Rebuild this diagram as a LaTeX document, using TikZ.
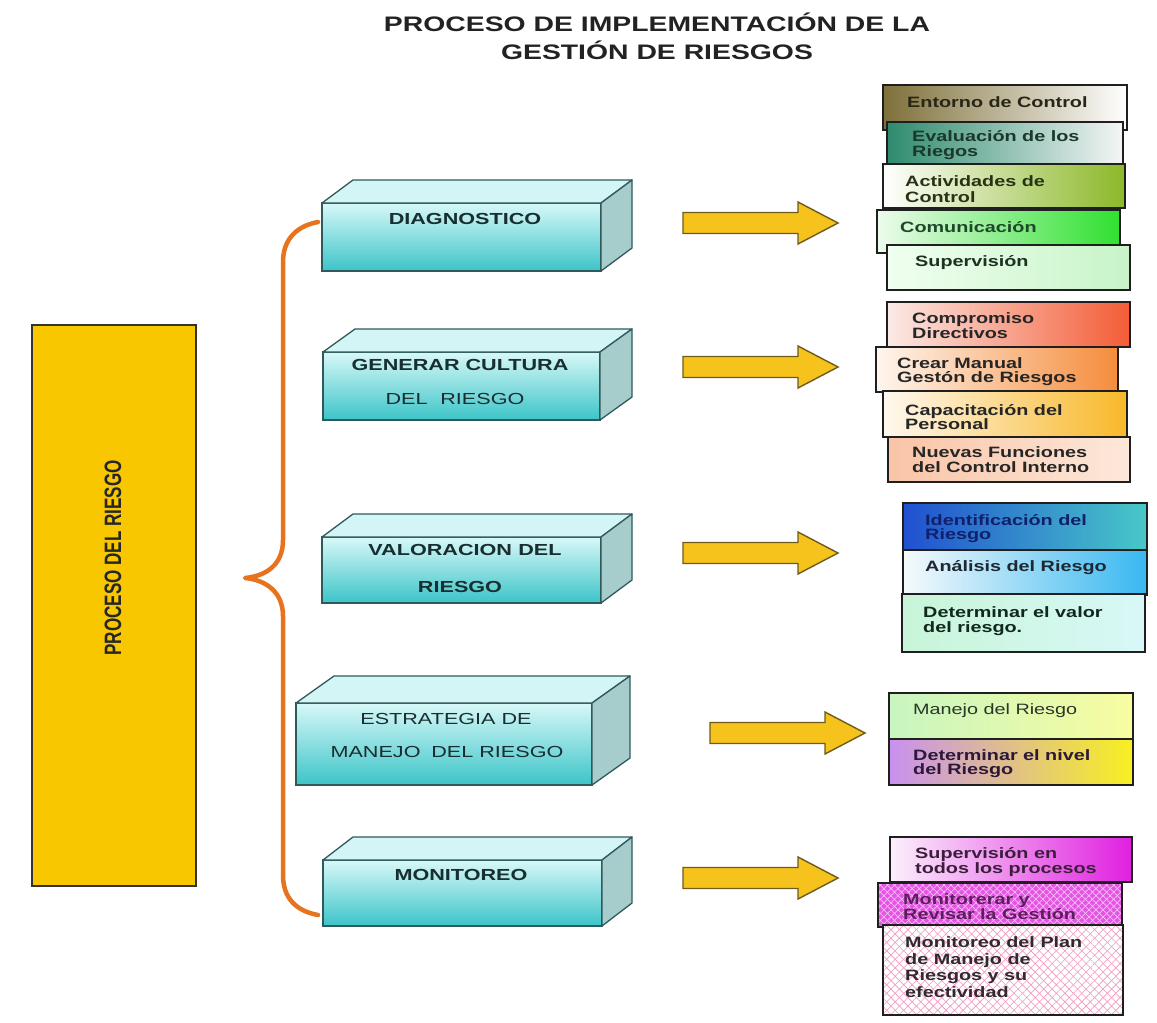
\documentclass[tikz,border=0pt]{standalone}
\usepackage{fontspec}
\setmainfont{Liberation Sans}
\newfontfamily\widefont[FakeStretch=1.35]{Liberation Sans}
\newfontfamily\rfont[FakeStretch=1.32]{Liberation Sans}
\newfontfamily\narrowfont[FakeStretch=0.72]{Liberation Sans}
\usetikzlibrary{patterns.meta}
\definecolor{boxedge}{HTML}{2F5A5C}
\definecolor{cyantop}{HTML}{D8F8F8}
\definecolor{cyanbot}{HTML}{3CC4C8}
\definecolor{cyanside}{HTML}{A6CCCC}
\definecolor{cyanlid}{HTML}{D4F5F5}
\definecolor{goldbox}{HTML}{F8C700}
\definecolor{bracecol}{HTML}{E8731E}
\definecolor{arrowfill}{HTML}{F6C21C}
\definecolor{arrowedge}{HTML}{6E5C1C}
\definecolor{txtbox}{HTML}{182E30}
\definecolor{txtdark}{HTML}{262626}
\definecolor{titlecol}{HTML}{222222}
\newcommand\mycuboid[3]{%
  \draw[lid] (#1.north west) -- ++(#2,#3) -- ([shift={(#2,#3)}]#1.north east) -- (#1.north east) -- cycle;
  \draw[side] (#1.north east) -- ++(#2,#3) -- ([shift={(#2,#3)}]#1.south east) -- (#1.south east) -- cycle;}
\begin{document}
\begin{tikzpicture}[x=1pt,y=-1pt,
  front/.style={draw=boxedge, line width=1.3pt, top color=cyantop, bottom color=cyanbot, inner sep=0pt, outer sep=0pt, anchor=north west},
  lid/.style={draw=boxedge, line width=1.3pt, fill=cyanlid, line join=round},
  side/.style={draw=boxedge, line width=1.3pt, fill=cyanside, line join=round},
  boxtxt/.style={font=\widefont\bfseries\fontsize{16}{18}\selectfont, text=txtbox, inner sep=0pt},
  boxtxtr/.style={font=\widefont\fontsize{16}{18}\selectfont, text=txtbox, inner sep=0pt},
  arrowsty/.style={draw=arrowedge, line width=1.4pt, fill=arrowfill, line join=miter},
  fatarrow/.pic={\draw[arrowsty] (0,-10.5) -- (115,-10.5) -- (115,-21) -- (155,0) -- (115,21) -- (115,10.5) -- (0,10.5) -- cycle;},
  rb/.style={draw=black!88, line width=1.3pt, inner sep=0pt, outer sep=0pt, anchor=north west},
  rt/.style={anchor=west, align=left, inner sep=0pt, font=\rfont\bfseries\fontsize{15}{15}\selectfont, text=txtdark},
  brace/.style={draw=bracecol, line width=4.5pt, line cap=round, line join=round}
]
\path[fill=white] (0,0) rectangle (1157,1023);
\useasboundingbox (0,0) rectangle (1157,1023);

% title
\node[font=\widefont\bfseries\fontsize{21}{28}\selectfont, text=titlecol, align=center] (title) at (657,36) {PROCESO DE IMPLEMENTACIÓN DE LA\\GESTIÓN DE RIESGOS};

% left box
\node[draw=black!80, line width=1.2pt, fill=goldbox, minimum width=164pt, minimum height=561pt, anchor=north west, inner sep=0pt, outer sep=0pt] (proc) at (32,325) {};
\node[rotate=90, font=\narrowfont\bfseries\fontsize{23.7}{24}\selectfont, text=txtdark, inner sep=0pt] (proclabel) at (113,558) {PROCESO DEL RIESGO};

% brace
\coordinate (bt) at (318,222);
\coordinate (bm) at (245,578);
\coordinate (bb) at (318,915);
\draw[brace] (bt) .. controls (296,226) and (283,240) .. (283,262) -- (283,540)
  .. controls (283,565) and (266,576) .. (bm)
  .. controls (266,580) and (283,592) .. (283,616) -- (283,875)
  .. controls (283,898) and (296,911) .. (bb);

% 3D boxes
\node[front, minimum width=279pt, minimum height=68pt] (diag) at (322,203) {};
\mycuboid{diag}{31}{-23}
\node[boxtxt] (diagt) at (465,219) {DIAGNOSTICO};

\node[front, minimum width=277pt, minimum height=68pt] (gen) at (323,352) {};
\mycuboid{gen}{32}{-23}
\node[boxtxt] (gent1) at (460,365) {GENERAR CULTURA};
\node[boxtxtr] (gent2) at (455,399) {DEL\hspace{0.8em}RIESGO};

\node[front, minimum width=279pt, minimum height=66pt] (val) at (322,537) {};
\mycuboid{val}{31}{-23}
\node[boxtxt] (valt1) at (465,550) {VALORACION\hspace{0.4em}DEL};
\node[boxtxt] (valt2) at (460,587) {RIESGO};

\node[front, minimum width=296pt, minimum height=82pt] (est) at (296,703) {};
\mycuboid{est}{38}{-27}
\node[boxtxtr] (estt1) at (446,719) {ESTRATEGIA DE};
\node[boxtxtr] (estt2) at (447,752) {MANEJO\hspace{0.3em} DEL RIESGO};

\node[front, minimum width=279pt, minimum height=66pt] (mon) at (323,860) {};
\mycuboid{mon}{30}{-23}
\node[boxtxt] (mont) at (461,875) {MONITOREO};

% arrows
\pic (a1) at (683,223) {fatarrow};
\pic (a2) at (683,367) {fatarrow};
\pic (a3) at (683,553) {fatarrow};
\pic (a4) at (710,733) {fatarrow};
\pic (a5) at (683,878) {fatarrow};

% group 1
\node[rb, minimum width=244pt, minimum height=45pt, left color={rgb,255:red,126;green,112;blue,58}, right color=white] (r1) at (883,85) {};
\node[rt, text={rgb,255:red,40;green,38;blue,22}] (r1t) at (907,102) {Entorno de Control};
\node[rb, minimum width=236pt, minimum height=43pt, left color={rgb,255:red,46;green,139;blue,110}, right color={rgb,255:red,244;green,246;blue,246}] (r2) at (887,122) {};
\node[rt, text={rgb,255:red,26;green,56;blue,44}] (r2t) at (912,145) {Evaluación de los\\Riegos};
\node[rb, minimum width=242pt, minimum height=44pt, left color=white, right color={rgb,255:red,140;green,184;blue,40}] (r3) at (883,164) {};
\node[rt, font=\rfont\bfseries\fontsize{15}{16.5}\selectfont, text={rgb,255:red,40;green,50;blue,20}] (r3t) at (905,189) {Actividades de\\Control};
\node[rb, minimum width=243pt, minimum height=43pt, left color={rgb,255:red,236;green,252;blue,236}, right color={rgb,255:red,48;green,224;blue,48}] (r4) at (877,210) {};
\node[rt, text={rgb,255:red,30;green,72;blue,44}] (r4t) at (900,227) {Comunicación};
\node[rb, minimum width=243pt, minimum height=45pt, left color={rgb,255:red,240;green,255;blue,240}, right color={rgb,255:red,200;green,244;blue,200}] (r5) at (887,245) {};
\node[rt, text={rgb,255:red,30;green,50;blue,36}] (r5t) at (915,263) {Supervisión};

% group 2
\node[rb, minimum width=243pt, minimum height=45pt, left color={rgb,255:red,251;green,234;blue,230}, right color={rgb,255:red,244;green,92;blue,54}] (r6) at (887,302) {};
\node[rt] (r6t) at (912,326) {Compromiso\\Directivos};
\node[rb, minimum width=242pt, minimum height=45pt, left color={rgb,255:red,255;green,246;blue,238}, right color={rgb,255:red,245;green,140;blue,60}] (r7) at (876,347) {};
\node[rt, font=\rfont\bfseries\fontsize{15}{14}\selectfont] (r7t) at (897,372) {Crear Manual\\Gestón de Riesgos};
\node[rb, minimum width=244pt, minimum height=46pt, left color={rgb,255:red,255;green,248;blue,240}, right color={rgb,255:red,248;green,184;blue,40}] (r8) at (883,391) {};
\node[rt, font=\rfont\bfseries\fontsize{15}{14}\selectfont] (r8t) at (905,417) {Capacitación del\\Personal};
\node[rb, minimum width=242pt, minimum height=45pt, left color={rgb,255:red,249;green,196;blue,166}, right color={rgb,255:red,253;green,232;blue,218}] (r9) at (888,437) {};
\node[rt] (r9t) at (912,460) {Nuevas Funciones\\del Control Interno};

% group 3
\node[rb, minimum width=244pt, minimum height=47pt, left color={rgb,255:red,32;green,80;blue,208}, right color={rgb,255:red,72;green,200;blue,200}] (r10) at (903,503) {};
\node[rt, font=\rfont\bfseries\fontsize{15}{14}\selectfont, text={rgb,255:red,16;green,32;blue,106}] (r10t) at (925,529) {Identificación del\\Riesgo};
\node[rb, minimum width=244pt, minimum height=45pt, left color={rgb,255:red,246;green,250;blue,252}, right color={rgb,255:red,56;green,184;blue,240}] (r11) at (903,550) {};
\node[rt, text={rgb,255:red,30;green,40;blue,50}] (r11t) at (925,568) {Análisis del Riesgo};
\node[rb, minimum width=243pt, minimum height=58pt, left color={rgb,255:red,200;green,245;blue,216}, right color={rgb,255:red,216;green,248;blue,248}] (r12) at (902,594) {};
\node[rt, text={rgb,255:red,16;green,40;blue,30}] (r12t) at (923,621) {Determinar el valor\\del riesgo.};

% group 4
\node[rb, minimum width=244pt, minimum height=46pt, left color={rgb,255:red,200;green,245;blue,192}, right color={rgb,255:red,248;green,252;blue,160}] (r13) at (889,693) {};
\node[rt, font=\rfont\fontsize{15}{15}\selectfont, text={rgb,255:red,40;green,56;blue,40}] (r13t) at (913,711) {Manejo del Riesgo};
\node[rb, minimum width=244pt, minimum height=46pt, left color={rgb,255:red,200;green,144;blue,240}, right color={rgb,255:red,248;green,240;blue,32}] (r14) at (889,739) {};
\node[rt, font=\rfont\bfseries\fontsize{15}{14}\selectfont, text={rgb,255:red,44;green,24;blue,58}] (r14t) at (913,764) {Determinar el nivel\\del Riesgo};

% group 5
\node[rb, minimum width=242pt, minimum height=45pt, left color={rgb,255:red,251;green,240;blue,251}, right color={rgb,255:red,224;green,32;blue,224}] (r15) at (890,837) {};
\node[rt, text={rgb,255:red,60;green,30;blue,60}] (r15t) at (915,862) {Supervisión en\\todos los procesos};
\node[rb, minimum width=244pt, minimum height=44pt, fill={rgb,255:red,226;green,86;blue,226}] (r16) at (878,883) {};
\fill[pattern={Lines[angle=45,distance=5pt,line width=0.7pt]}, pattern color={rgb,255:red,250;green,190;blue,250}] (r16.north west) rectangle (r16.south east);
\fill[pattern={Lines[angle=-45,distance=5pt,line width=0.7pt]}, pattern color={rgb,255:red,250;green,190;blue,250}] (r16.north west) rectangle (r16.south east);
\draw[draw=black!88, line width=1.3pt] (r16.north west) rectangle (r16.south east);
\node[rt, font=\rfont\bfseries\fontsize{15}{14}\selectfont, text={rgb,255:red,92;green,30;blue,92}] (r16t) at (903,907) {Monitorerar y\\Revisar la Gestión};
\node[rb, minimum width=240pt, minimum height=90pt, fill=white] (r17) at (883,925) {};
\fill[pattern={Lines[angle=45,distance=6pt,line width=0.6pt]}, pattern color={rgb,255:red,240;green,150;blue,190}] (r17.north west) rectangle (r17.south east);
\fill[pattern={Lines[angle=-45,distance=6pt,line width=0.6pt]}, pattern color={rgb,255:red,240;green,150;blue,190}] (r17.north west) rectangle (r17.south east);
\draw[draw=black!88, line width=1.3pt] (r17.north west) rectangle (r17.south east);
\node[rt, font=\rfont\bfseries\fontsize{15}{16.7}\selectfont, text={rgb,255:red,50;green,40;blue,50}] (r17t) at (905,967) {Monitoreo del Plan\\de Manejo de\\Riesgos y su\\efectividad};
\end{tikzpicture}
\end{document}
